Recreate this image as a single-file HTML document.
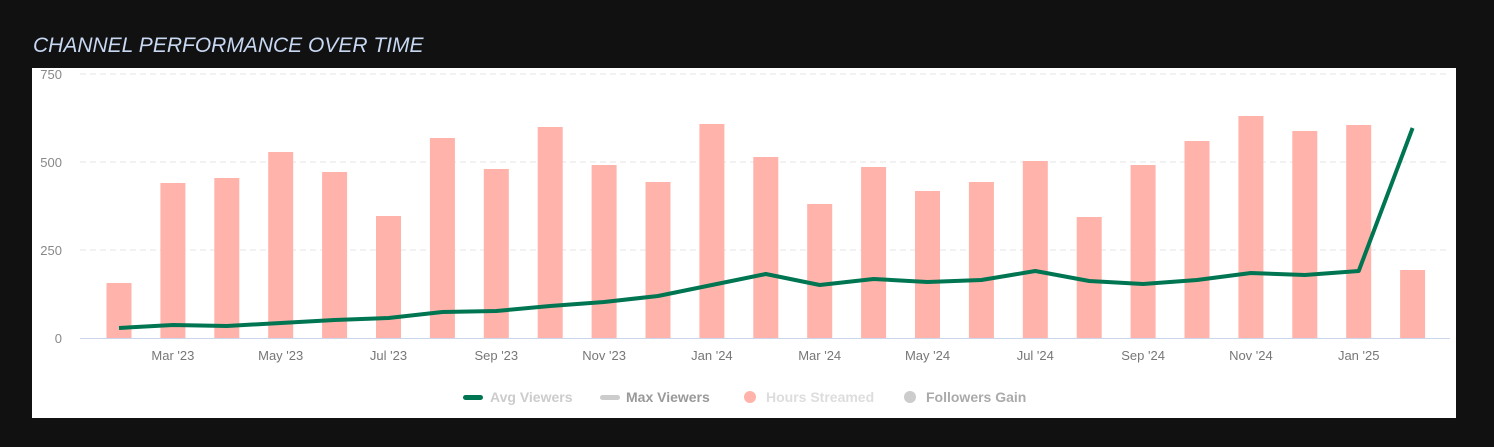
<!DOCTYPE html><html><head><style>body{margin:0;background:#111;width:1494px;height:442px;overflow:hidden;font-family:"Liberation Sans",sans-serif}</style></head><body>
<svg width="1494" height="442" xmlns="http://www.w3.org/2000/svg" font-family="Liberation Sans, sans-serif">
<rect width="1494" height="442" fill="#111"/>
<text x="33" y="52" font-size="21" font-style="italic" fill="#c8d8f2">CHANNEL PERFORMANCE OVER TIME</text>
<rect x="32" y="68" width="1424" height="350" fill="#fff"/>
<g stroke="#e6e6e6" stroke-dasharray="6,4">
<line x1="80" x2="1450" y1="74" y2="74"/><line x1="80" x2="1450" y1="162" y2="162"/><line x1="80" x2="1450" y1="250" y2="250"/></g>
<line x1="80" x2="1450" y1="338.5" y2="338.5" stroke="#ccd6eb"/>
<g font-size="13" fill="#888" text-anchor="end"><text x="62" y="79">750</text><text x="62" y="167">500</text><text x="62" y="255">250</text><text x="62" y="343">0</text></g>
<g fill="#ffb3aa" id="b"></g>
<g font-size="13" fill="#777" text-anchor="middle" id="t"></g>
<polyline id="l" fill="none" stroke="#007552" stroke-width="4" stroke-linejoin="round"/>
<g font-size="14" font-weight="bold">
<rect x="463" y="395" width="20" height="5" rx="2.5" fill="#007552"/><text x="490" y="402" fill="#ccc">Avg Viewers</text>
<rect x="600" y="395" width="20" height="5" rx="2.5" fill="#ccc"/><text x="626" y="402" fill="#999">Max Viewers</text>
<circle cx="750" cy="397" r="6" fill="#ffb3aa"/><text x="766" y="402" fill="#ddd">Hours Streamed</text>
<circle cx="910" cy="397" r="6" fill="#ccc"/><text x="926" y="402" fill="#aaa">Followers Gain</text></g>
</svg>
<script>
var tops=[283,183,178,152,172,216,138,169,127,165,182,124,157,204,167,191,182,161,217,165,141,116,131,125,270];
var ly=[328,325,326,323,320,318,312,311,306,302,296,285,274,285,279,282,280,271,281,284,280,273,275,271,128];
var labs=["Mar '23","May '23","Jul '23","Sep '23","Nov '23","Jan '24","Mar '24","May '24","Jul '24","Sep '24","Nov '24","Jan '25"];
var ns="http://www.w3.org/2000/svg",b=document.getElementById('b'),t=document.getElementById('t'),pts=[];
for(var i=0;i<25;i++){var x=119+53.9*i;var r=document.createElementNS(ns,'rect');r.setAttribute('x',x-12.5);r.setAttribute('y',tops[i]);r.setAttribute('width',25);r.setAttribute('height',338-tops[i]);b.appendChild(r);pts.push(x+','+ly[i]);
if(i%2==1){var tx=document.createElementNS(ns,'text');tx.setAttribute('x',x);tx.setAttribute('y',360);tx.textContent=labs[(i-1)/2];t.appendChild(tx);}}
document.getElementById('l').setAttribute('points',pts.join(' '));
</script>
</body></html>
